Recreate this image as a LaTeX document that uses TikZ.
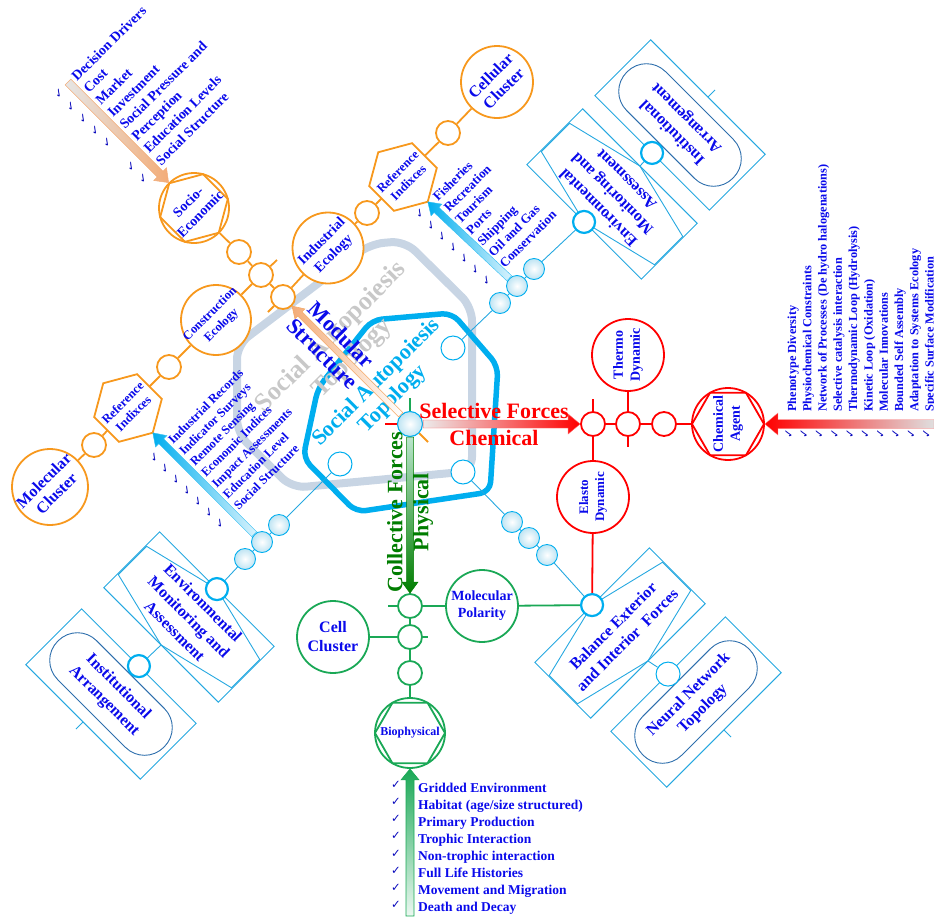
\documentclass[tikz,border=0pt]{standalone}
\usepackage{fontspec}
\setmainfont{Liberation Serif}
\newfontfamily\mysymfont{DejaVu Sans}
\usetikzlibrary{calc}
\pgfdeclarelayer{back}
\pgfdeclarelayer{links}
\pgfsetlayers{back,links,main}

\definecolor{org}{RGB}{247,152,29}
\definecolor{orgl}{RGB}{243,172,120}
\definecolor{grn}{RGB}{26,168,86}
\definecolor{dgrn}{RGB}{0,125,0}
\definecolor{tblue}{RGB}{10,10,235}
\definecolor{cyn}{RGB}{0,174,239}
\definecolor{boxc}{RGB}{38,168,224}
\definecolor{stad}{RGB}{45,110,172}
\definecolor{hexgray}{RGB}{200,213,228}
\definecolor{tgray}{RGB}{200,200,200}
\definecolor{ballc}{RGB}{190,228,243}

\newcommand\fsz[2]{\fontsize{#1}{#2}\selectfont\bfseries}
\newcommand\mychk{{\mysymfont\char"2713}}

% wide shaded arrow from #1 to #2: body half-width #3, head half-width #4, head length #5, shading #6
\newcommand\fatarrow[6]{%
  \coordinate (fa-base) at ($(#2)!#5!(#1)$);
  \shadedraw[#6] ($(#1)!#3!90:(#2)$) -- ($(fa-base)!#3!90:(#2)$) -- ($(fa-base)!#4!90:(#2)$)
    -- (#2) -- ($(fa-base)!#4!-90:(#2)$) -- ($(fa-base)!#3!-90:(#2)$) -- ($(#1)!#3!-90:(#2)$) -- cycle;}

% monitoring box: frame, pinched hexagon, entry circle, exit point, caption
\newcommand\envbox[4]{%
  \begin{scope}[shift={#2}, rotate=#3, transform shape]
    \draw[boxline] (-81,-39.5) rectangle (81,39.5);
    \draw[boxline] (-80,-20) -- (0,-39.5) -- (80,-20) -- (80,20) -- (0,39.5) -- (-80,20) -- cycle;
    \node[circB] (#1c) at (0,-39.5) {};
    \coordinate (#1out) at (0,39.5);
    \node[boxtxt] (#1t) at (0,0) {#4};
  \end{scope}}

% arrangement box: frame, stadium, entry circle, outer tick, caption
\newcommand\instbox[5]{%
  \begin{scope}[shift={#2}, rotate=#3, transform shape]
    \draw[boxline] (-81,-39.5) rectangle (81,39.5);
    \draw[stadline, rounded corners=27pt] (-75,-27.5) rectangle (75,27.5);
    \node[#5] (#1c) at (0,-39.5) {};
    \coordinate (#1s) at (0,39.5);
    \coordinate (#1e) at (0,49.5);
    \draw[blink] (#1s) -- (#1e);
    \node[boxtxt] (#1t) at (0,0) {#4};
  \end{scope}}

\begin{document}
\begin{tikzpicture}[x=1pt, y=-1pt,
  ocS/.style={circle, draw=org, line width=1.8pt, fill=white, minimum size=24pt, inner sep=0pt},
  ocB/.style={ocS, minimum size=70pt},
  rcS/.style={circle, draw=red, line width=1.8pt, fill=white, minimum size=24pt, inner sep=0pt},
  rcB/.style={rcS, minimum size=72pt},
  gcS/.style={circle, draw=grn, line width=1.8pt, fill=white, minimum size=24pt, inner sep=0pt},
  gcB/.style={gcS, minimum size=72pt},
  ball/.style={circle, draw=cyn, line width=0.9pt, inner color=white, outer color=ballc, minimum size=21pt, inner sep=0pt},
  ocirc/.style={circle, draw=cyn, line width=1pt, fill=white, minimum size=24pt, inner sep=0pt},
  circB/.style={circle, draw=cyn, line width=2.2pt, fill=white, minimum size=22pt, inner sep=0pt},
  lbl/.style={text=tblue, align=center, inner sep=0pt},
  boxtxt/.style={lbl, font=\fsz{16}{20}},
  listtxt/.style={text=tblue, inner sep=0pt, anchor=base west},
  chkm/.style={text=tblue!80!black, inner sep=0pt, font=\fontsize{11.5}{11.5}\selectfont},
  olink/.style={draw=org, line width=1.8pt},
  rlink/.style={draw=red, line width=1.8pt},
  glink/.style={draw=grn, line width=1.8pt},
  blink/.style={draw=boxc, line width=0.9pt},
  boxline/.style={draw=boxc, line width=0.9pt},
  stadline/.style={draw=stad, line width=0.9pt}
]
\useasboundingbox (0,0) rectangle (934,916);

% ---------- background frames ----------
\begin{pgfonlayer}{back}
  \draw[hexgray, line width=8pt, rounded corners=14pt]
    (237,345) -- (370,244) -- (405,241) -- (472,307) -- (472,471) -- (292,488) -- (237,433) -- cycle;
  \draw[cyn, line width=5.5pt, rounded corners=10pt]
    (372,320) -- (452,313) -- (498,366) -- (490,492) -- (356,512) -- (303,458) -- (318,388) -- cycle;
\end{pgfonlayer}

% ---------- boxes ----------
\envbox{envNE}{(612,194)}{135}{Environmental\\Monitoring and\\Assessment}
\instbox{instNE}{(680,125)}{135}{Institutional\\Arrangement}{circB}
\envbox{envLL}{(189,617)}{-45}{Environmental\\Monitoring and\\Assessment}
\instbox{instLL}{(111,694)}{-45}{Institutional\\Arrangement}{circB}
\envbox{bal}{(620,633)}{45}{Balance Exterior\\and Interior~ Forces}
\instbox{neur}{(696,702)}{45}{Neural Network\\Topology}{ocirc}

% ---------- hub ----------
\node[ball, minimum size=25pt, line width=1.1pt] (hub) at (410,424) {};
\coordinate (hubO) at (428,442);
\coordinate (hubR) at (385,424);
\coordinate (hubG) at (410,398);

% ---------- orange branch ----------
\node[ocS] (o1) at (283,297) {};
\node[ocS] (o2) at (261,275) {};
\node[ocS] (o3) at (239,252) {};
\node[ocB] (socio) at (194,208) {};
\draw[org, line width=1.8pt] (socio) +(45:35) -- +(105:35) -- +(165:35) -- +(225:35) -- +(285:35) -- +(345:35) -- cycle;
\coordinate (oSt1) at (268,312);
\coordinate (oSt2) at (277,260);
\node[ocB, minimum size=71pt] (indeco) at (328,248) {};
\node[ocS] (oNE1) at (367,213) {};
\coordinate (refNE) at (403,177);
\draw[org, line width=1.8pt, fill=white] (refNE) +(45:35) -- +(105:35) -- +(165:35) -- +(225:35) -- +(285:35) -- +(345:35) -- cycle;
\coordinate (refNEc) at ($(refNE)+(45:35)$);
\node[ocS] (oNE2) at (448,133) {};
\node[ocB, minimum size=72pt] (cellc) at (497,82) {};
\node[ocB] (consteco) at (216,320) {};
\node[ocS] (oSW1) at (169,367) {};
\coordinate (refSW) at (128,408);
\draw[org, line width=1.8pt, fill=white] (refSW) +(45:35) -- +(105:35) -- +(165:35) -- +(225:35) -- +(285:35) -- +(345:35) -- cycle;
\coordinate (refSWc) at ($(refSW)+(45:35)$);
\node[ocS] (oSW2) at (94,445) {};
\node[ocB, minimum size=76pt] (molc) at (50,487) {};

% ---------- red branch ----------
\node[rcS] (c1) at (593,424) {};
\node[rcS] (c2) at (628,424) {};
\node[rcS] (c3) at (664,424) {};
\node[rcB] (chem) at (728,424) {};
\draw[red, line width=1.8pt] (chem) +(0:36) -- +(60:36) -- +(120:36) -- +(180:36) -- +(240:36) -- +(300:36) -- cycle;
\node[rcB] (thermo) at (628,355) {};
\node[rcB] (elasto) at (593,497) {};
\coordinate (cSt1) at (593,399);
\coordinate (cSt2) at (628,447);

% ---------- green branch ----------
\node[gcS] (g1) at (410,606) {};
\node[gcS] (g2) at (410,637) {};
\node[gcS] (g3) at (410,673) {};
\node[gcB, minimum size=70pt] (bio) at (410,733) {};
\draw[grn, line width=1.8pt] (bio) +(0:35) -- +(60:35) -- +(120:35) -- +(180:35) -- +(240:35) -- +(300:35) -- cycle;
\node[gcB] (molpol) at (482,606) {};
\node[gcB] (cellcl) at (333,637) {};
\coordinate (gSt1) at (388,606);
\coordinate (gSt2) at (428,637);

% ---------- blue chains ----------
\node[ball] (bNE1) at (500,303) {};
\node[ball] (bNE2) at (517,286) {};
\node[ball] (bNE3) at (534,269) {};
\node[ball] (bSW1) at (279,525) {};
\node[ball] (bSW2) at (262,542) {};
\node[ball] (bSW3) at (245,559) {};
\node[ball] (bSE1) at (512,522) {};
\node[ball] (bSE2) at (529,538) {};
\node[ball] (bSE3) at (547,555) {};
\node[ocirc] (oc1) at (453,348) {};
\node[ocirc] (oc2) at (340,464) {};
\node[ocirc] (oc3) at (463,472) {};

% ---------- connectors ----------
\begin{pgfonlayer}{links}
  \draw[olink] (o1) -- (o2) -- (o3) -- (socio);
  \draw[olink] (o1) -- (indeco) -- (oNE1) -- (refNE) -- (oNE2) -- (cellc);
  \draw[olink] (o1) -- (oSt1);
  \draw[olink] (o2) -- (oSt2);
  \draw[olink] (o2) -- (consteco) -- (oSW1) -- (refSW) -- (oSW2) -- (molc);
  \draw[olink] (hub) -- (hubO);
  \draw[rlink] (hub) -- (hubR);
  \draw[rlink] (c1) -- (c2) -- (c3) -- (chem);
  \draw[rlink] (c1) -- (cSt1);
  \draw[rlink] (c1) -- (elasto) -- (balc);
  \draw[rlink] (c2) -- (thermo);
  \draw[rlink] (c2) -- (cSt2);
  \draw[glink] (hub) -- (hubG);
  \draw[glink] (g1) -- (g2) -- (g3) -- (bio);
  \draw[glink] (g1) -- (gSt1);
  \draw[glink] (g1) -- (molpol) -- (balc);
  \draw[glink] (g2) -- (cellcl);
  \draw[glink] (g2) -- (gSt2);
  \draw[blink] (envNEout) -- (instNEc);
  \draw[blink] (envNEc) -- (bNE3) -- (bNE2) -- (bNE1) -- (oc1);
  \draw[blink] (oc2) -- (bSW1) -- (bSW2) -- (bSW3) -- (envLLc);
  \draw[blink] (envLLout) -- (instLLc);
  \draw[blink] (oc3) -- (bSE1) -- (bSE2) -- (bSE3) -- (balc);
  \draw[blink] (balout) -- (neurc);
\end{pgfonlayer}

% ---------- centre captions ----------
\node[rotate=45, font=\fsz{26}{30}, text=tgray, align=center] (sapG) at (342,348) {Social Autopoiesis\\Topology};
\node[rotate=45, font=\fsz{22}{23}, text=cyn, align=center] (sapC) at (385,391) {Social Autopoiesis\\Topology};

% ---------- wide arrows ----------
\fatarrow{hub.east}{c1.west}{4pt}{10pt}{12pt}{left color=gray!15, right color=red, draw=red!60, line width=0.4pt}
\coordinate (chemTail) at (934,424);
\fatarrow{chemTail}{chem.east}{4.5pt}{11pt}{13pt}{left color=red, right color=gray!25, draw=red!50, line width=0.3pt}
\fatarrow{hub.south}{g1.north}{3.5pt}{8pt}{11pt}{top color=grn!30, bottom color=dgrn, draw=dgrn, line width=0.5pt}
\coordinate (bioTail) at (410,916);
\fatarrow{bioTail}{bio.south}{4pt}{9pt}{11pt}{top color=grn, bottom color=grn!8, draw=grn, line width=0.6pt}
\fatarrow{hub.135}{o1.-45}{3pt}{7pt}{11pt}{left color=orgl, right color=white, draw=orgl!80!org, line width=0.6pt}
\coordinate (ddTail) at (68,82);
\fatarrow{ddTail}{socio.135}{4pt}{9pt}{12pt}{left color=gray!20, right color=orgl, draw=orgl, line width=0.5pt}
\fatarrow{bNE2.135}{refNEc}{3.5pt}{8pt}{12pt}{left color=cyn, right color=cyn!15, draw=cyn!80, line width=0.4pt}
\fatarrow{bSW2.135}{refSWc}{3.5pt}{8pt}{12pt}{left color=cyn, right color=cyn!15, draw=cyn!80, line width=0.4pt}

\node[rotate=-45, font=\fsz{22}{27}, text=tblue, align=center] (modT) at (332,344) {Modular\\Structure};
\node[font=\fsz{22}{27}, text=red, align=center] (selT) at (494,424) {Selective Forces\\Chemical};
\node[rotate=90, font=\fsz{22}{26}, text=dgrn, align=center] (colT) at (410,512) {Collective Forces\\Physical};

% ---------- node captions ----------
\node[lbl, rotate=45, font=\fsz{14}{17}] (socioT) at (socio) {Socio-\\Economic};
\node[lbl, rotate=45, font=\fsz{14}{17}] (indecoT) at (indeco) {Industrial\\Ecology};
\node[lbl, rotate=45, font=\fsz{12.5}{16}] (constT) at (consteco) {Construction\\Ecology};
\node[lbl, rotate=45, font=\fsz{12.5}{15}] (refNET) at (refNE) {Reference\\Indixces};
\node[lbl, rotate=45, font=\fsz{12.5}{15}] (refSWT) at (refSW) {Reference\\Indixces};
\node[lbl, rotate=45, font=\fsz{16}{18}] (cellcT) at (cellc) {Cellular\\Cluster};
\node[lbl, rotate=45, font=\fsz{16}{18}] (molcT) at (molc) {Molecular\\Cluster};
\node[lbl, rotate=90, font=\fsz{14}{17}] (thermoT) at (thermo) {Thermo\\Dynamic};
\node[lbl, rotate=90, font=\fsz{14}{17}] (chemT) at (chem) {Chemical\\Agent};
\node[lbl, rotate=90, font=\fsz{13}{16}] (elastoT) at (elasto) {Elasto\\Dynamic};
\node[lbl, font=\fsz{14}{17}] (molpolT) at (molpol) {Molecular\\Polarity};
\node[lbl, font=\fsz{16}{19}] (cellclT) at (cellcl) {Cell\\Cluster};
\node[lbl, font=\fsz{12}{14}] (bioT) at (bio) {Biophysical};

% ---------- check lists ----------
\begin{scope}[shift={(77,82)}, rotate=45, transform shape]
  \foreach \t [count=\i from 0] in {Decision Drivers, Cost, Market, Investment, Social Pressure and, Perception, Education Levels, Social Structure}
    \node[listtxt, font=\fsz{14}{14}] (dd\i) at (0,\i*17) {\t};
  \foreach \i in {0,1,2,3,4,6,7}
    \node[chkm] (ddk\i) at (-21,\i*17-4) {\mychk};
\end{scope}

\begin{scope}[shift={(438,202)}, rotate=45, transform shape]
  \foreach \t [count=\i from 0] in {Fisheries, Recreation, Tourism, Ports, Shipping, Oil and Gas, Conservation}
    \node[listtxt, font=\fsz{13}{13}] (fi\i) at (0,\i*15.7) {\t};
  \foreach \i in {0,...,6}
    \node[chkm] (fik\i) at (-21,\i*15.7-4) {\mychk};
\end{scope}

\begin{scope}[shift={(173,445)}, rotate=45, transform shape]
  \foreach \t [count=\i from 0] in {Industrial Records, Indicator Surveys, Remote Sensing, Economic Indices, Impact Assessments, Education Level, Social Structure}
    \node[listtxt, font=\fsz{12.5}{12.5}] (ir\i) at (0,\i*15.5) {\t};
  \foreach \i in {0,...,6}
    \node[chkm] (irk\i) at (-22,\i*15.5-4) {\mychk};
\end{scope}

\begin{scope}[shift={(418,792)}]
  \foreach \t [count=\i from 0] in {Gridded Environment, Habitat (age/size structured), Primary Production, Trophic Interaction, Non-trophic interaction, Full Life Histories, Movement and Migration, Death and Decay}
    \node[listtxt, font=\fsz{13.5}{13.5}] (bp\i) at (0,\i*17.1) {\t};
  \foreach \i in {0,...,7}
    \node[chkm] (bpk\i) at (-22,\i*17.1-7) {\mychk};
\end{scope}

\begin{scope}[shift={(796,412)}, rotate=90, transform shape]
  \foreach \t [count=\i from 0] in {Phenotype Diversity, Physiochemical Constraints, Network of Processes (De hydro halogenations), Selective catalysis interaction, Thermodynamic Loop (Hydrolysis), Kinetic Loop (Oxidation), Molecular Innovations, Bounded Self Assembly, Adaptation to Systems Ecology, Specific Surface Modification}
    \node[listtxt, font=\fsz{12.3}{12.3}] (ca\i) at (0,\i*15.3) {\t};
  \foreach \i in {0,...,9}
    \node[chkm] (cak\i) at (-22,\i*15.3-7) {\mychk};
\end{scope}

\end{tikzpicture}
\end{document}
